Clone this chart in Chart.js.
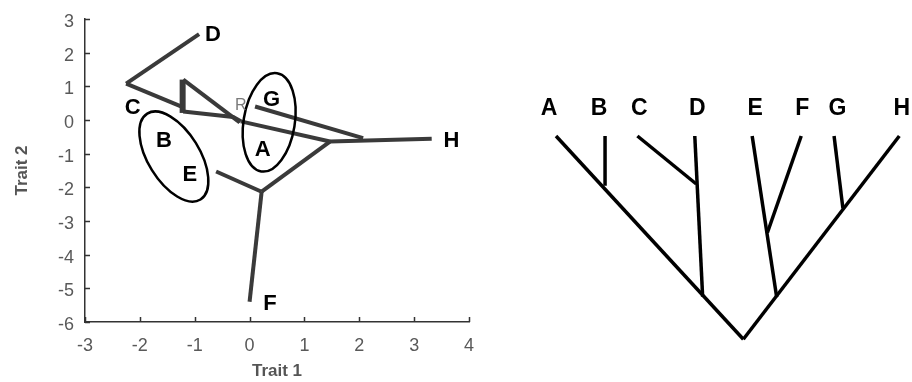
<!DOCTYPE html>
<html>
<head>
<meta charset="utf-8">
<script src="https://cdn.jsdelivr.net/npm/chart.js@4.4.0/dist/chart.umd.min.js"></script>
<style>
  html, body { margin: 0; padding: 0; background: #fff; }
  #wrap { position: relative; width: 912px; height: 382px; overflow: hidden; }
  #left { position: absolute; left: 0; top: 0; }
  #right { position: absolute; left: 500px; top: 0; }
</style>
</head>
<body>
<div id="wrap">
  <canvas id="left" width="490" height="382"></canvas>
  <canvas id="right" width="412" height="382"></canvas>
</div>
<script>
// ---------- Phylomorphospace (left panel) data ----------
const branchDC    = [[-0.92, 2.55], [-2.25, 1.08]];
const branchCbar  = [[-2.25, 1.08], [-1.24, 0.40]];
const branchBar   = [[-1.22, 0.21], [-1.22, 1.20]];
const branchDiag  = [[-1.21, 1.20], [-0.18, -0.07]];
const branchLow   = [[-1.21, 0.25], [-0.30, 0.09], [-0.16, -0.04]];
const branchRoot  = [[-0.16, -0.04], [1.465, -0.64]];
const branchG     = [[0.10, 0.40], [2.07, -0.54]];
const branchH     = [[1.465, -0.64], [3.32, -0.56]];
const branchNodeEF = [[1.465, -0.64], [0.22, -2.13]];
const branchE     = [[0.22, -2.13], [-0.61, -1.53]];
const branchF     = [[0.22, -2.13], [0.0, -5.40]];

const xTickValues = [-3, -2, -1, 0, 1, 2, 3, 4];
const yTickValues = [3, 2, 1, 0, -1, -2, -3, -4, -5, -6];

const spaceLabels  = ['D', 'C', 'G', 'B', 'E', 'A', 'H', 'F'];
const spaceLabelX  = [-0.667, -2.13, 0.40, -1.56, -1.09, 0.24, 3.68, 0.37];
const spaceLabelY  = [2.593, 0.42, 0.65, -0.57, -1.58, -0.84, -0.57, -5.40];
const rootLabel    = ['R'];
const rootLabelX   = [-0.16];
const rootLabelY   = [0.48];

// ellipse centres (data units)
const ellipseCX = [-1.38, 0.357];
const ellipseCY = [-1.085, -0.07];

// ---------- Tree (right panel) data ----------
const treeBranchA = [[0.0, 1.0], [3.82, 0.0]];
const treeBranchH = [[7.0, 1.0], [3.82, 0.0]];
const treeBranchB = [[1.0, 1.0], [1.0, 0.755]];
const treeBranchC = [[1.66, 1.0], [2.86, 0.764]];
const treeBranchD = [[2.83, 1.0], [2.99, 0.21]];
const treeBranchE = [[4.0, 1.0], [4.5, 0.207]];
const treeBranchF = [[5.0, 1.0], [4.31, 0.524]];
const treeBranchG = [[5.67, 1.0], [5.85, 0.644]];
const treeLabels  = ['A', 'B', 'C', 'D', 'E', 'F', 'G', 'H'];
const treeLabelX  = [-0.14, 0.877, 1.70, 2.88, 4.06, 5.02, 5.74, 7.05];
const treeLabelH  = [1.144, 1.144, 1.144, 1.144, 1.144, 1.144, 1.144, 1.144];

const FONT = '"Liberation Sans", Arial, Helvetica, sans-serif';
const toPts = arr => arr.map(p => ({ x: p[0], y: p[1] }));

// draw a capital letter so that its visual centre sits at (x, y)
function centredText(ctx, text, x, y, size) {
  ctx.textAlign = 'center';
  ctx.textBaseline = 'alphabetic';
  ctx.fillText(text, x, y + 0.358 * size);
}

// ---------- Left chart ----------
const leftBranches = [branchDC, branchCbar, branchDiag, branchLow, branchRoot,
                      branchG, branchH, branchNodeEF, branchE, branchF];
const leftDatasets = leftBranches.map(b => ({
  data: toPts(b), showLine: true, borderColor: '#3a3a3a', borderWidth: 4,
  pointRadius: 0, fill: false, tension: 0, borderCapStyle: 'butt', borderJoinStyle: 'miter'
}));
leftDatasets.push({
  data: toPts(branchBar), showLine: true, borderColor: '#3a3a3a', borderWidth: 6,
  pointRadius: 0, fill: false, tension: 0
});

const innerTicks = {
  id: 'innerTicks',
  beforeDraw(chart) {
    // nudge y tick labels slightly downward to match the reference
    const items = chart.scales.y.getLabelItems(chart.chartArea);
    items.forEach(it => { if (!it._nudged) { it.textOffset += 3; it._nudged = true; } });
  },
  afterDraw(chart) {
    const { ctx, chartArea, scales } = chart;
    ctx.save();
    ctx.strokeStyle = '#333';
    ctx.lineWidth = 1.5;
    ctx.beginPath();
    xTickValues.forEach(v => {
      const px = Math.round(scales.x.getPixelForValue(v)) + 0.5;
      ctx.moveTo(px, chartArea.bottom);
      ctx.lineTo(px, chartArea.bottom - 5);
    });
    yTickValues.forEach(v => {
      const py = Math.round(scales.y.getPixelForValue(v)) + 0.5;
      ctx.moveTo(chartArea.left, py);
      ctx.lineTo(chartArea.left + 5, py);
    });
    ctx.stroke();
    ctx.restore();
  }
};

const overlays = {
  id: 'overlays',
  afterDatasetsDraw(chart) {
    const { ctx, scales } = chart;
    ctx.save();
    // ellipses
    const semiA = [50.5, 49.7], semiB = [25.8, 25.6], rot = [58.2, -80.8];
    ctx.strokeStyle = '#000';
    ctx.lineWidth = 2.5;
    for (let i = 0; i < ellipseCX.length; i++) {
      const cx = scales.x.getPixelForValue(ellipseCX[i]);
      const cy = scales.y.getPixelForValue(ellipseCY[i]);
      ctx.beginPath();
      ctx.ellipse(cx, cy, semiA[i], semiB[i], rot[i] * Math.PI / 180, 0, Math.PI * 2);
      ctx.stroke();
    }
    // tip labels
    ctx.fillStyle = '#000';
    ctx.font = 'bold 22px ' + FONT;
    spaceLabels.forEach((t, i) => {
      centredText(ctx, t, scales.x.getPixelForValue(spaceLabelX[i]), scales.y.getPixelForValue(spaceLabelY[i]), 22);
    });
    ctx.fillStyle = '#7a7a7a';
    ctx.font = '16px ' + FONT;
    rootLabel.forEach((t, i) => {
      centredText(ctx, t, scales.x.getPixelForValue(rootLabelX[i]), scales.y.getPixelForValue(rootLabelY[i]), 16);
    });
    ctx.restore();
  }
};

new Chart(document.getElementById('left'), {
  type: 'scatter',
  data: { datasets: leftDatasets },
  options: {
    responsive: false,
    animation: false,
    devicePixelRatio: 1,
    layout: { padding: { left: 0, top: 19, right: 21, bottom: 0 } },
    plugins: { legend: { display: false }, tooltip: { enabled: false } },
    scales: {
      x: {
        type: 'linear', min: -3, max: 4,
        afterBuildTicks: s => { s.ticks = xTickValues.map(v => ({ value: v })); },
        afterFit: s => { s.height = 60; },
        grid: { display: false },
        border: { display: true, color: '#333', width: 1.5 },
        ticks: { color: '#595959', padding: 5, font: { size: 18, family: FONT } },
        title: { display: true, text: 'Trait 1', color: '#555', padding: { top: 0, bottom: 0 },
                 font: { size: 17, weight: 'bold', family: FONT } }
      },
      y: {
        type: 'linear', min: -6, max: 3,
        afterBuildTicks: s => { s.ticks = yTickValues.map(v => ({ value: v })); },
        afterFit: s => { s.width = 85; },
        grid: { display: false },
        border: { display: true, color: '#333', width: 1.5 },
        ticks: { color: '#595959', padding: 3, font: { size: 18, family: FONT } },
        title: { display: true, text: 'Trait 2', color: '#555', padding: { top: 12, bottom: 0 },
                 font: { size: 17, weight: 'bold', family: FONT } }
      }
    }
  },
  plugins: [innerTicks, overlays]
});

// ---------- Right chart (tree) ----------
const treeBranches = [treeBranchA, treeBranchH, treeBranchB, treeBranchC,
                      treeBranchD, treeBranchE, treeBranchF, treeBranchG];
const treeDatasets = treeBranches.map(b => ({
  data: toPts(b), showLine: true, borderColor: '#000', borderWidth: 3.5,
  pointRadius: 0, fill: false, tension: 0, borderCapStyle: 'butt'
}));

const treeText = {
  id: 'treeText',
  afterDatasetsDraw(chart) {
    const { ctx, scales } = chart;
    ctx.save();
    ctx.fillStyle = '#000';
    ctx.font = 'bold 23px ' + FONT;
    treeLabels.forEach((t, i) => {
      centredText(ctx, t, scales.x.getPixelForValue(treeLabelX[i]), scales.y.getPixelForValue(treeLabelH[i]), 23);
    });
    ctx.restore();
  }
};

new Chart(document.getElementById('right'), {
  type: 'scatter',
  data: { datasets: treeDatasets },
  options: {
    responsive: false,
    animation: false,
    devicePixelRatio: 1,
    layout: { padding: 0 },
    plugins: { legend: { display: false }, tooltip: { enabled: false } },
    scales: {
      x: { type: 'linear', min: -1.142, max: 7.259, display: false },
      y: { type: 'linear', min: -0.21, max: 1.669, display: false }
    }
  },
  plugins: [treeText]
});
</script>
</body>
</html>
